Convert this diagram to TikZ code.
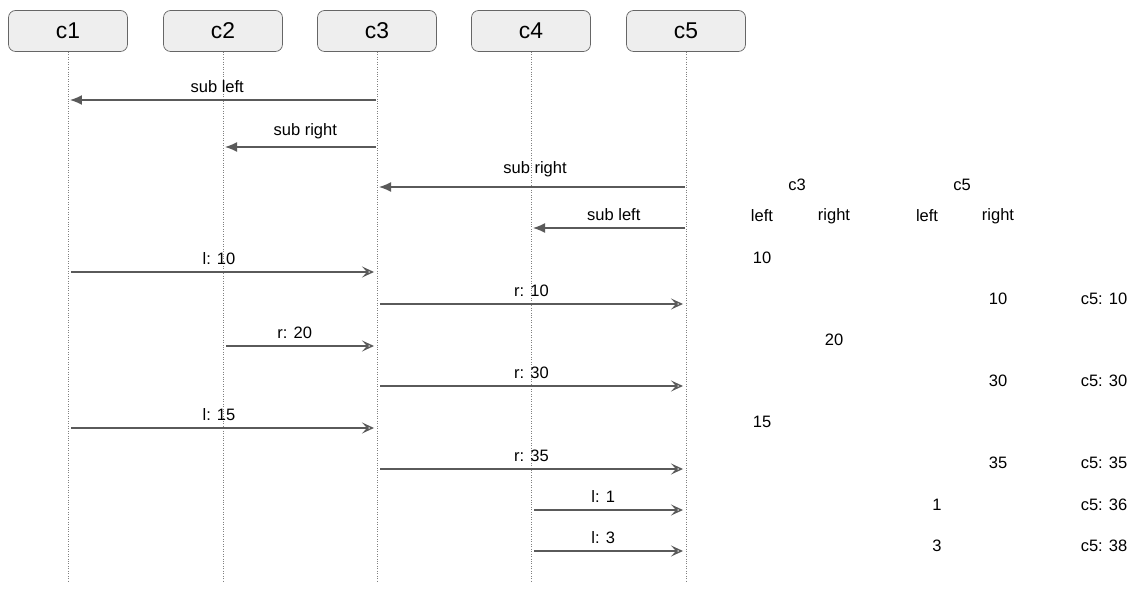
\documentclass[tikz,border=0pt]{standalone}
\usepackage{fontspec}
\setmainfont{Liberation Sans}
\usetikzlibrary{arrows.meta,positioning}
\definecolor{boxfill}{HTML}{EEEEEE}
\definecolor{boxline}{HTML}{666666}
\definecolor{msgline}{HTML}{5A5A5A}

\begin{document}
\begin{tikzpicture}[x=0.02cm,y=-0.02cm]
\tikzstyle{actor}=[rectangle,rounded corners=4pt,draw=boxline,fill=boxfill,
minimum width=2.38cm,minimum height=0.82cm,inner sep=0pt,font=\fontsize{13}{15}\selectfont]
\tikzstyle{lifeline}=[draw=gray,densely dotted]
\tikzstyle{sub}=[draw=msgline,thick,-{Latex[length=2.4mm,width=2mm]},shorten >=0.04cm,shorten <=0.02cm]
\tikzstyle{val}=[draw=msgline,thick,-{Stealth[open,length=2.4mm,width=2.2mm,inset=1mm]},shorten >=0.06cm,shorten <=0.06cm]
\tikzstyle{lbl}=[font=\fontsize{9.4}{11}\selectfont,inner sep=1pt]
\useasboundingbox (0,0) rectangle (1145,597);

% actors
\node[actor] at (68,31) (c1) {c1};
\node[actor] at (223,31) (c2) {c2};
\node[actor] at (377,31) (c3) {c3};
\node[actor] at (531,31) (c4) {c4};
\node[actor] at (686,31) (c5) {c5};

% lifelines
\coordinate (end) at (0,583);
\draw[lifeline] (c1) -- (c1 |- end);
\draw[lifeline] (c2) -- (c2 |- end);
\draw[lifeline] (c3) -- (c3 |- end);
\draw[lifeline] (c4) -- (c4 |- end);
\draw[lifeline] (c5) -- (c5 |- end);

% rows of messages
\coordinate (r1) at (0,100);
\coordinate (r2) at (0,147);
\coordinate (r3) at (0,187);
\coordinate (r4) at (0,228);
\coordinate (r5) at (0,272);
\coordinate (r6) at (0,304);
\coordinate (r7) at (0,346);
\coordinate (r8) at (0,386);
\coordinate (r9) at (0,428);
\coordinate (r10) at (0,469);
\coordinate (r11) at (0,510);
\coordinate (r12) at (0,551);

\path[sub] (c3 |- r1) -- node[lbl,above=3pt,xshift=-3pt]{sub left} (c1 |- r1);
\path[sub] (c3 |- r2) -- node[lbl,above=3pt,xshift=3pt]{sub right} (c2 |- r2);
\path[sub] (c5 |- r3) -- node[lbl,above=4.5pt,xshift=2pt]{sub right} (c3 |- r3);
\path[sub] (c5 |- r4) -- node[lbl,above=3pt,xshift=3pt]{sub left} (c4 |- r4);
\path[val] (c1 |- r5) -- node[lbl,above=3pt,xshift=-2pt]{l: 10} (c3 |- r5);
\path[val] (c3 |- r6) -- node[lbl,above=3pt]{r: 10} (c5 |- r6);
\path[val] (c2 |- r7) -- node[lbl,above=3pt,xshift=-3pt]{r: 20} (c3 |- r7);
\path[val] (c3 |- r8) -- node[lbl,above=3pt]{r: 30} (c5 |- r8);
\path[val] (c1 |- r9) -- node[lbl,above=3pt,xshift=-2pt]{l: 15} (c3 |- r9);
\path[val] (c3 |- r10) -- node[lbl,above=3pt]{r: 35} (c5 |- r10);
\path[val] (c4 |- r11) -- node[lbl,above=3pt,xshift=-3pt]{l: 1} (c5 |- r11);
\path[val] (c4 |- r12) -- node[lbl,above=3pt,xshift=-3pt]{l: 3} (c5 |- r12);

% state table
\node[lbl] at (797,185) (t3) {c3};
\node[lbl] at (962,185) (t5) {c5};
\node[lbl] at (762,216) (l3) {left};
\node[lbl] at (834,216) (g3) {right};
\node[lbl] at (927,216) (l5) {left};
\node[lbl] at (998,216) (g5) {right};
\node[lbl] at (762,258) (v1) {10};
\node[lbl] at (998,299) (v2) {10};
\node[lbl] at (1104,299) (s2) {c5: 10};
\node[lbl] at (834,340) (v3) {20};
\node[lbl] at (998,381) (v4) {30};
\node[lbl] at (1104,381) (s4) {c5: 30};
\node[lbl] at (762,422) (v5) {15};
\node[lbl] at (998,463) (v6) {35};
\node[lbl] at (1104,463) (s6) {c5: 35};
\node[lbl] at (937,505) (v7) {1};
\node[lbl] at (1104,505) (s7) {c5: 36};
\node[lbl] at (937,546) (v8) {3};
\node[lbl] at (1104,546) (s8) {c5: 38};

\end{tikzpicture}
\end{document}
